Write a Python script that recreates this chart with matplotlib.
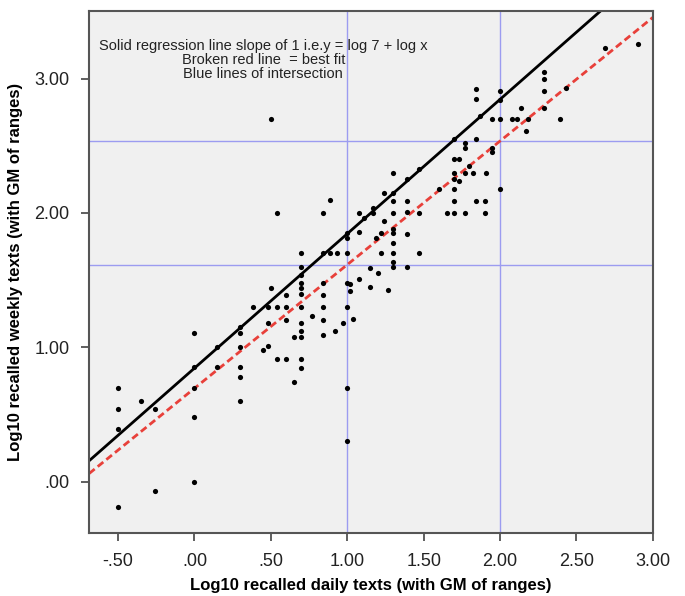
import numpy as np
import matplotlib
matplotlib.use("Agg")
import matplotlib.pyplot as plt
from matplotlib.ticker import FuncFormatter

plt.rcParams['font.family'] = ['Liberation Sans', 'DejaVu Sans']

# log10 recalled daily texts (x) / weekly texts (y)
daily = [-0.50, -0.50, -0.50, -0.50, -0.35, -0.26, -0.26,
         0.00, 0.00, 0.00, 0.00, 0.00, 0.15, 0.15,
         0.30, 0.30, 0.30, 0.30, 0.30, 0.30, 0.38, 0.45, 0.48, 0.48, 0.48,
         0.50, 0.50, 0.54, 0.54, 0.54, 0.60, 0.60, 0.60, 0.60, 0.65, 0.65,
         0.70, 0.70, 0.70, 0.70, 0.70, 0.70, 0.70, 0.70, 0.70, 0.70, 0.70, 0.70,
         0.77, 0.84, 0.84, 0.84, 0.84, 0.84, 0.84, 0.84, 0.89, 0.89, 0.92, 0.93, 0.97,
         1.00, 1.00, 1.00, 1.00, 1.00, 1.00, 1.00, 1.02, 1.02, 1.04,
         1.08, 1.08, 1.08, 1.11, 1.15, 1.15, 1.17, 1.17, 1.19, 1.20, 1.22, 1.22,
         1.24, 1.24, 1.27,
         1.30, 1.30, 1.30, 1.30, 1.30, 1.30, 1.30, 1.30, 1.30, 1.30,
         1.39, 1.39, 1.39, 1.39, 1.39, 1.47, 1.47, 1.47, 1.60, 1.65,
         1.70, 1.70, 1.70, 1.70, 1.70, 1.70, 1.70, 1.73, 1.73,
         1.77, 1.77, 1.77, 1.77, 1.80, 1.82, 1.84, 1.84, 1.84, 1.84, 1.87,
         1.90, 1.90, 1.91, 1.95, 1.95, 1.95, 2.00, 2.00, 2.00, 2.00,
         2.08, 2.11, 2.14, 2.17, 2.18, 2.29, 2.29, 2.29, 2.29, 2.39, 2.43,
         2.69, 2.90]
weekly = [0.70, 0.54, 0.39, -0.19, 0.60, 0.54, -0.07,
          1.11, 0.85, 0.70, 0.48, 0.00, 1.00, 0.85,
          1.15, 1.11, 1.00, 0.85, 0.78, 0.60, 1.30, 0.98, 1.30, 1.18, 1.01,
          2.70, 1.44, 2.00, 1.30, 0.91, 1.39, 1.30, 1.20, 0.91, 1.08, 0.74,
          1.70, 1.60, 1.54, 1.48, 1.44, 1.40, 1.30, 1.18, 1.12, 1.08, 0.91, 0.845,
          1.23, 2.00, 1.70, 1.48, 1.39, 1.30, 1.20, 1.09, 2.10, 1.70, 1.12, 1.70, 1.18,
          1.85, 1.81, 1.70, 1.48, 1.30, 0.70, 0.30, 1.47, 1.42, 1.21,
          2.00, 1.86, 1.51, 1.96, 1.59, 1.45, 2.04, 2.00, 1.81, 1.55, 1.85, 1.70,
          2.15, 1.94, 1.43,
          2.30, 2.15, 2.09, 2.00, 1.88, 1.85, 1.78, 1.70, 1.635, 1.60,
          2.25, 2.09, 2.01, 1.84, 1.60, 2.33, 2.00, 1.70, 2.18, 2.00,
          2.55, 2.40, 2.30, 2.25, 2.18, 2.09, 2.00, 2.40, 2.24,
          2.52, 2.48, 2.30, 2.00, 2.35, 2.30, 2.92, 2.85, 2.55, 2.09, 2.72,
          2.09, 2.00, 2.30, 2.70, 2.48, 2.45, 2.91, 2.84, 2.70, 2.18,
          2.70, 2.70, 2.78, 2.61, 2.70, 3.05, 3.00, 2.91, 2.78, 2.70, 2.93,
          3.23, 3.26]

# slope-1 line through log 7, and the broken best-fit line
solid_intercept = np.log10(7)
fit_intercept = 0.695
fit_slope = 0.92
cross_x = [1.0, 2.0]

xmin, xmax = -0.69, 3.0
ymin, ymax = -0.385, 3.505

fig = plt.figure(figsize=(6.85, 5.96), dpi=100)
ax = fig.add_axes([0.130, 0.105, 0.823, 0.877])
ax.set_facecolor('#f0f0f0')

# blue lines of intersection
for cx in cross_x:
    ax.axvline(cx, color='#9c9cf0', lw=1, zorder=1)
    ax.axhline(fit_intercept + fit_slope * cx, color='#9c9cf0', lw=1, zorder=1)

xs = np.array([xmin, xmax])
ax.plot(xs, solid_intercept + xs, color='black', lw=2, zorder=2)
ax.plot(xs, fit_intercept + fit_slope * xs, color='#e8403a', lw=2,
        dashes=(2.6, 1.4), zorder=2)

ax.scatter(daily, weekly, s=14, color='black', zorder=3, linewidths=0)

ax.text(0.45, 3.14, 'Solid regression line slope of 1 i.e.y = log 7 + log x\n'
        'Broken red line  = best fit\nBlue lines of intersection',
        ha='center', va='center', fontsize=10.5, color='#222222',
        linespacing=1.0)

ax.set_xlim(xmin, xmax)
ax.set_ylim(ymin, ymax)
ax.set_xticks([-0.5, 0, 0.5, 1, 1.5, 2, 2.5, 3])
ax.set_yticks([0, 1, 2, 3])


def spss_fmt(v, pos):
    s = f"{v:.2f}"
    return s.replace('0.', '.', 1) if abs(v) < 1 else s


ax.xaxis.set_major_formatter(FuncFormatter(spss_fmt))
ax.yaxis.set_major_formatter(FuncFormatter(spss_fmt))
ax.tick_params(direction='out', length=6, width=1.2, color='#444444',
               labelsize=13, labelcolor='#222222', pad=8)
for sp in ax.spines.values():
    sp.set_color('#555555')
    sp.set_linewidth(1.5)

ax.set_xlabel('Log10 recalled daily texts (with GM of ranges)',
              fontsize=12, fontweight='bold', labelpad=6)
ax.set_ylabel('Log10 recalled weekly texts (with GM of ranges)',
              fontsize=12, fontweight='bold', labelpad=8)

fig.savefig('out.png', dpi=100)
